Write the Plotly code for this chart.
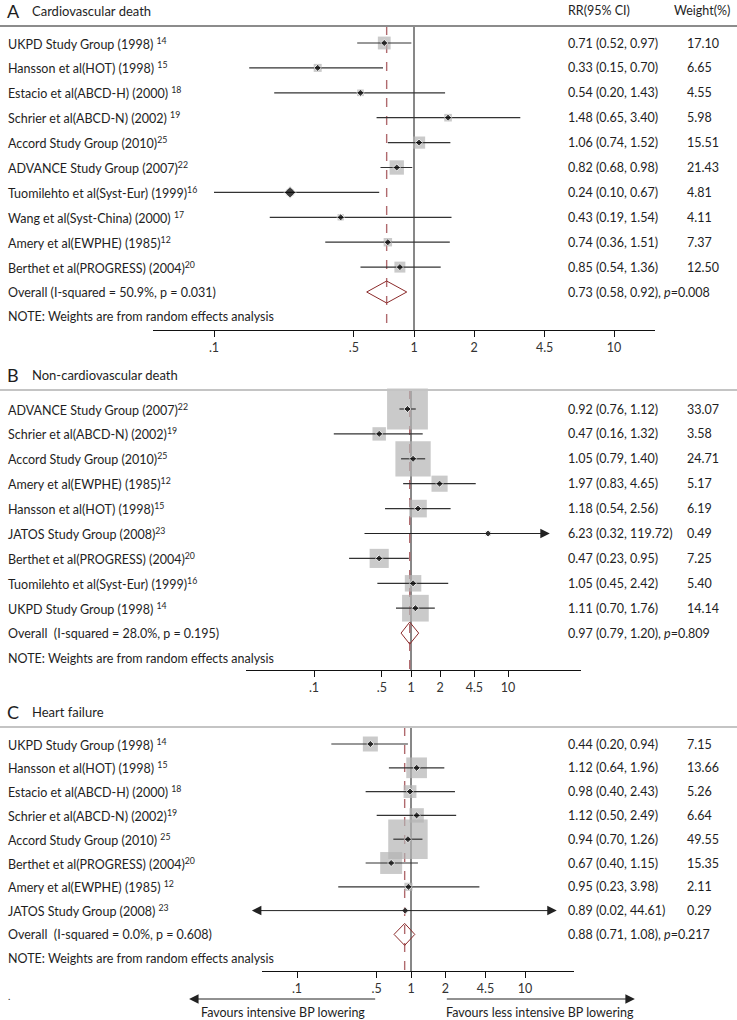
import math
import plotly.graph_objects as go

W, H = 737, 1020
FONT = "Lato, 'Open Sans', sans-serif"
TXT = "#1e1e1e"

# ---------------- data ----------------
tick_vals = [0.1, 0.5, 1, 2, 4.5, 10]
tick_text = [".1", ".5", "1", "2", "4.5", "10"]

# Panel A: Cardiovascular death
a_title = "Cardiovascular death"
a_names = ["UKPD Study Group (1998) ", "Hansson et al(HOT) (1998) ", "Estacio et al(ABCD-H) (2000) ",
           "Schrier et al(ABCD-N) (2002) ", "Accord Study Group (2010)", "ADVANCE Study Group (2007)",
           "Tuomilehto et al(Syst-Eur) (1999)", "Wang et al(Syst-China) (2000) ", "Amery et al(EWPHE) (1985)",
           "Berthet et al(PROGRESS) (2004)"]
a_refs = ["14", "15", "18", "19", "25", "22", "16", "17", "12", "20"]
a_rr = [0.71, 0.33, 0.54, 1.48, 1.06, 0.82, 0.24, 0.43, 0.74, 0.85]
a_lo = [0.52, 0.15, 0.20, 0.65, 0.74, 0.68, 0.10, 0.19, 0.36, 0.54]
a_hi = [0.97, 0.70, 1.43, 3.40, 1.52, 0.98, 0.67, 1.54, 1.51, 1.36]
a_w = [17.10, 6.65, 4.55, 5.98, 15.51, 21.43, 4.81, 4.11, 7.37, 12.50]
a_overall = [0.73, 0.58, 0.92]
a_overall_p = "0.008"
a_het = "Overall (I-squared = 50.9%, p = 0.031)"

# Panel B: Non-cardiovascular death
b_title = "Non-cardiovascular death"
b_names = ["ADVANCE Study Group (2007)", "Schrier et al(ABCD-N) (2002)", "Accord Study Group (2010)",
           "Amery et al(EWPHE) (1985)", "Hansson et al(HOT) (1998)", "JATOS Study Group (2008)",
           "Berthet et al(PROGRESS) (2004)", "Tuomilehto et al(Syst-Eur) (1999)", "UKPD Study Group (1998) "]
b_refs = ["22", "19", "25", "12", "15", "23", "20", "16", "14"]
b_rr = [0.92, 0.47, 1.05, 1.97, 1.18, 6.23, 0.47, 1.05, 1.11]
b_lo = [0.76, 0.16, 0.79, 0.83, 0.54, 0.32, 0.23, 0.45, 0.70]
b_hi = [1.12, 1.32, 1.40, 4.65, 2.56, 119.72, 0.95, 2.42, 1.76]
b_w = [33.07, 3.58, 24.71, 5.17, 6.19, 0.49, 7.25, 5.40, 14.14]
b_overall = [0.97, 0.79, 1.20]
b_overall_p = "0.809"
b_het = "Overall  (I-squared = 28.0%, p = 0.195)"

# Panel C: Heart failure
c_title = "Heart failure"
c_names = ["UKPD Study Group (1998) ", "Hansson et al(HOT) (1998) ", "Estacio et al(ABCD-H) (2000) ",
           "Schrier et al(ABCD-N) (2002)", "Accord Study Group (2010) ", "Berthet et al(PROGRESS) (2004)",
           "Amery et al(EWPHE) (1985) ", "JATOS Study Group (2008) "]
c_refs = ["14", "15", "18", "19", "25", "20", "12", "23"]
c_rr = [0.44, 1.12, 0.98, 1.12, 0.94, 0.67, 0.95, 0.89]
c_lo = [0.20, 0.64, 0.40, 0.50, 0.70, 0.40, 0.23, 0.02]
c_hi = [0.94, 1.96, 2.43, 2.49, 1.26, 1.15, 3.98, 44.61]
c_w = [7.15, 13.66, 5.26, 6.64, 49.55, 15.35, 2.11, 0.29]
c_overall = [0.88, 0.71, 1.08]
c_overall_p = "0.217"
c_het = "Overall  (I-squared = 0.0%, p = 0.608)"

note_text = "NOTE: Weights are from random effects analysis"
fav_left = "Favours intensive BP lowering"
fav_right = "Favours less intensive BP lowering"

# ---------------- layout geometry (pixels) ----------------
panels = [
    dict(letter="A", title=a_title, names=a_names, refs=a_refs, rr=a_rr, lo=a_lo, hi=a_hi, w=a_w,
         ov=a_overall, ovp=a_overall_p, het=a_het,
         title_px=11, top_px=26, first_px=43, step=24.9, axis_px=330, x0=153, x1=655, one=414, dec=200,
         box_k=3.1, clip=(0.05, 30), top_color="#8c8c8c", big_pt={6: 9}),
    dict(letter="B", title=b_title, names=b_names, refs=b_refs, rr=b_rr, lo=b_lo, hi=b_hi, w=b_w,
         ov=b_overall, ovp=b_overall_p, het=b_het,
         title_px=375, top_px=390, first_px=409, step=24.9, axis_px=670, x0=246, x1=581, one=411, dec=97,
         box_k=7.1, clip=(0.02, 27), top_color="#c4c4c4", big_pt={}),
    dict(letter="C", title=c_title, names=c_names, refs=c_refs, rr=c_rr, lo=c_lo, hi=c_hi, w=c_w,
         ov=c_overall, ovp=c_overall_p, het=c_het,
         title_px=712, top_px=727, first_px=744, step=23.8, axis_px=971, x0=262, x1=574, one=411, dec=114,
         box_k=5.6, clip=(0.039, 19), top_color="#c4c4c4", big_pt={}),
]

fig = go.Figure()
annotations = []
shapes = []
layout_axes = {}

for k, p in enumerate(panels):
    sfx = "" if k == 0 else str(k + 1)
    xa, ya = "x" + sfx, "y" + sfx
    n = len(p["rr"])
    top_val = (p["top_px"] - p["first_px"]) / p["step"]
    bot_val = (p["axis_px"] - p["first_px"]) / p["step"]
    rows = list(range(n))

    layout_axes["xaxis" + sfx] = dict(
        type="log", domain=[p["x0"] / W, p["x1"] / W],
        range=[(p["x0"] - p["one"]) / p["dec"], (p["x1"] - p["one"]) / p["dec"]],
        anchor=ya, showgrid=False, zeroline=False, showline=True, linecolor="#111", linewidth=1,
        ticks="outside", ticklen=6, tickcolor="#111", tickwidth=1,
        tickvals=tick_vals, ticktext=tick_text,
        tickfont=dict(family=FONT, size=12.5, color="#333"), fixedrange=True)
    layout_axes["yaxis" + sfx] = dict(
        domain=[1 - p["axis_px"] / H, 1 - p["top_px"] / H], range=[bot_val, top_val],
        anchor=xa, visible=False, fixedrange=True)

    # reference line at 1 and dashed overall line
    fig.add_trace(go.Scatter(x=[1, 1], y=[top_val, bot_val], mode="lines", xaxis=xa, yaxis=ya,
                             line=dict(color="#111", width=1), hoverinfo="skip", showlegend=False))
    fig.add_trace(go.Scatter(x=[p["ov"][0]] * 2, y=[top_val, bot_val], mode="lines", xaxis=xa, yaxis=ya,
                             line=dict(color="#b06a6e", width=1.4, dash="dash"), hoverinfo="skip",
                             showlegend=False))

    # weight boxes
    fig.add_trace(go.Scatter(x=p["rr"], y=rows, mode="markers", xaxis=xa, yaxis=ya, cliponaxis=False,
                             marker=dict(symbol="square", color="#b3b3b3",
                                         size=[p["box_k"] * math.sqrt(w) for w in p["w"]],
                                         line=dict(width=0)),
                             hoverinfo="skip", showlegend=False))

    # CI lines
    cx, cy = [], []
    lo_clip, hi_clip = p["clip"]
    for i in range(n):
        lo, hi = p["lo"][i], p["hi"][i]
        if lo < lo_clip or hi > hi_clip:
            l2, h2 = max(lo, lo_clip), min(hi, hi_clip)
            if lo < lo_clip and hi > hi_clip:
                side = "end+start"
            elif hi > hi_clip:
                side = "end"
            else:
                side = "start"
            annotations.append(dict(
                x=math.log10(h2), y=i, ax=math.log10(l2), ay=i, xref=xa, yref=ya, axref=xa, ayref=ya,
                text="", showarrow=True, arrowhead=2, arrowsize=1.9, arrowwidth=1, arrowcolor="#222",
                arrowside=side, standoff=0, startstandoff=0))
        else:
            cx += [lo, hi, None]
            cy += [i, i, None]
    fig.add_trace(go.Scatter(x=cx, y=cy, mode="lines", xaxis=xa, yaxis=ya,
                             line=dict(color="#333", width=1.2), hoverinfo="skip", showlegend=False))

    # point estimates
    fig.add_trace(go.Scatter(x=p["rr"], y=rows, mode="markers", xaxis=xa, yaxis=ya, cliponaxis=False,
                             marker=dict(symbol="diamond", color="#000",
                                         size=[p["big_pt"].get(i, 5.5) for i in range(n)]),
                             hoverinfo="skip", showlegend=False))

    # overall diamond
    ovr, ovl, ovh = p["ov"]
    hh = 11 / p["step"]
    fig.add_trace(go.Scatter(x=[ovl, ovr, ovh, ovr, ovl], y=[n, n - hh, n, n + hh, n], mode="lines",
                             xaxis=xa, yaxis=ya, line=dict(color="#8b2a2a", width=1),
                             hoverinfo="skip", showlegend=False))

    # top rule
    shapes.append(dict(type="line", xref="paper", x0=0, x1=1, yref=ya + " domain", y0=1, y1=1,
                       line=dict(color=p["top_color"], width=2)))

    # panel title and header
    ty = 1 - p["title_px"] / H
    annotations.append(dict(x=5 / W, y=ty, xref="paper", yref="paper", text=p["letter"], showarrow=False,
                            xanchor="left", yanchor="middle", font=dict(family=FONT, size=18, color=TXT)))
    annotations.append(dict(x=30 / W, y=ty, xref="paper", yref="paper", text=p["title"], showarrow=False,
                            xanchor="left", yanchor="middle", font=dict(family=FONT, size=13, color=TXT)))
    if k == 0:
        annotations.append(dict(x=566 / W, y=ty, xref="paper", yref="paper", text="RR(95% CI)",
                                showarrow=False, xanchor="left", yanchor="middle",
                                font=dict(family=FONT, size=12.5, color=TXT)))
        annotations.append(dict(x=672 / W, y=ty, xref="paper", yref="paper", text="Weight(%)",
                                showarrow=False, xanchor="left", yanchor="middle",
                                font=dict(family=FONT, size=12.5, color=TXT)))

    # row labels
    f = dict(family=FONT, size=12.5, color=TXT)
    for i in range(n):
        annotations.append(dict(x=6 / W, y=i, xref="paper", yref=ya, showarrow=False, xanchor="left",
                                yanchor="middle", font=f,
                                text=p["names"][i] + "<sup>" + p["refs"][i] + "</sup>"))
        annotations.append(dict(x=566 / W, y=i, xref="paper", yref=ya, showarrow=False, xanchor="left",
                                yanchor="middle", font=f,
                                text=f"{p['rr'][i]:.2f} ({p['lo'][i]:.2f}, {p['hi'][i]:.2f})"))
        annotations.append(dict(x=685 / W, y=i, xref="paper", yref=ya, showarrow=False, xanchor="left",
                                yanchor="middle", font=f, text=f"{p['w'][i]:.2f}"))
    annotations.append(dict(x=6 / W, y=n, xref="paper", yref=ya, showarrow=False, xanchor="left",
                            yanchor="middle", font=f, text=p["het"]))
    annotations.append(dict(x=566 / W, y=n, xref="paper", yref=ya, showarrow=False, xanchor="left",
                            yanchor="middle", font=f,
                            text=f"{ovr:.2f} ({ovl:.2f}, {ovh:.2f}), <i>p</i>={p['ovp']}"))
    annotations.append(dict(x=6 / W, y=n + 1, xref="paper", yref=ya, showarrow=False, xanchor="left",
                            yanchor="middle", font=f, text=note_text))

# favour arrows under panel C
fav_arrows = [(0.5, 0.0113), (2.0, 92.0)]
arrow_y = 1 - 999 / H
for (tail, head), label in zip(fav_arrows, [fav_left, fav_right]):
    annotations.append(dict(x=math.log10(head), y=arrow_y, xref="x3", yref="paper",
                            ax=math.log10(tail), ay=0, axref="x3", ayref="pixel",
                            text="", showarrow=True, arrowhead=2, arrowsize=1.9, arrowwidth=1,
                            arrowcolor="#222", standoff=0))
    annotations.append(dict(x=(math.log10(head) + math.log10(tail)) / 2, y=1 - 1012 / H,
                            xref="x3", yref="paper", text=label, showarrow=False,
                            xanchor="center", yanchor="middle",
                            font=dict(family=FONT, size=12.5, color=TXT)))
annotations.append(dict(x=6 / W, y=1 - 996 / H, xref="paper", yref="paper", text=".", showarrow=False,
                        xanchor="left", yanchor="middle", font=dict(family=FONT, size=10, color=TXT)))

fig.update_layout(
    width=W, height=H, margin=dict(l=0, r=0, t=0, b=0),
    paper_bgcolor="white", plot_bgcolor="rgba(0,0,0,0)",
    showlegend=False, annotations=annotations, shapes=shapes,
    font=dict(family=FONT, color=TXT), **layout_axes)

fig.write_html("out.html", config={"displayModeBar": False},
               post_script="document.body.style.margin='0';document.body.style.overflow='hidden';")
